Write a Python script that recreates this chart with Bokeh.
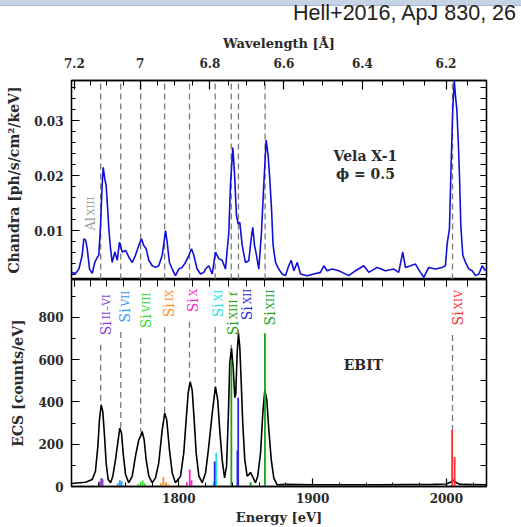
import numpy as np
from bokeh.plotting import figure
from bokeh.models import LinearAxis, FixedTicker, Range1d, Div, ColumnDataSource
from bokeh.layouts import column
from bokeh.embed import file_html
from bokeh.resources import INLINE
from bokeh.core.properties import value

HC = 12398.42  # eV * Angstrom

# ---------------- data ----------------
chandra_energy = [1719.8, 1722.8, 1725.3, 1727.8, 1729.0, 1730.3, 1731.5, 1733.3, 1735.3, 1737.2,
                  1739.0, 1740.2, 1741.5, 1742.7, 1743.5, 1744.7, 1745.7, 1746.7, 1747.7, 1749.0,
                  1750.2, 1752.2, 1754.0, 1755.7, 1757.7, 1760.2, 1762.6, 1765.2, 1767.6, 1770.1,
                  1772.1, 1773.8, 1775.6, 1777.6, 1780.1, 1782.6, 1785.0, 1787.6, 1790.1, 1791.3,
                  1793.0, 1795.1, 1797.5, 1800.0, 1802.5, 1805.0, 1807.5, 1809.5, 1811.2, 1813.7,
                  1816.2, 1818.7, 1820.0, 1822.4, 1825.0, 1827.4, 1829.9, 1832.4, 1834.9, 1837.4,
                  1838.6, 1840.4, 1841.6, 1843.1, 1844.4, 1845.6, 1847.4, 1849.8, 1852.3, 1854.1,
                  1855.3, 1856.6, 1858.1, 1859.8, 1861.8, 1863.5, 1865.3, 1866.8, 1868.0, 1869.3,
                  1870.5, 1872.3, 1874.7, 1877.3, 1879.7, 1882.2, 1884.0, 1886.0, 1888.5, 1891.0,
                  1896.0, 1900.9, 1905.9, 1908.4, 1910.9, 1914.6, 1919.6, 1922.1, 1927.1, 1932.1,
                  1938.3, 1942.0, 1948.3, 1954.5, 1960.7, 1964.4, 1967.4, 1969.4, 1973.2, 1976.9,
                  1980.6, 1983.1, 1986.8, 1991.8, 1996.8, 1999.3, 2000.6, 2002.3, 2003.8, 2004.8,
                  2005.9, 2006.8, 2007.8, 2008.9, 2009.8, 2010.8, 2012.3, 2014.3, 2016.8, 2019.3,
                  2021.8, 2024.3, 2026.8, 2029.2]
chandra_flux = [0.0024, 0.0022, 0.0030, 0.0055, 0.0085, 0.0083, 0.0068, 0.0030, 0.0022, 0.0042,
                0.0051, 0.0055, 0.0109, 0.0182, 0.0215, 0.0194, 0.0182, 0.0145, 0.0103, 0.0067,
                0.0042, 0.0061, 0.0046, 0.0079, 0.0061, 0.0064, 0.0052, 0.0042, 0.0055, 0.0073,
                0.0085, 0.0073, 0.0067, 0.0046, 0.0036, 0.0033, 0.0036, 0.0055, 0.0100, 0.0079,
                0.0042, 0.0030, 0.0018, 0.0030, 0.0033, 0.0042, 0.0055, 0.0067, 0.0055, 0.0030,
                0.0021, 0.0024, 0.0030, 0.0036, 0.0021, 0.0061, 0.0049, 0.0046, 0.0030, 0.0097,
                0.0182, 0.0251, 0.0206, 0.0127, 0.0112, 0.0115, 0.0073, 0.0042, 0.0045, 0.0085,
                0.0106, 0.0073, 0.0055, 0.0030, 0.0097, 0.0182, 0.0265, 0.0236, 0.0194, 0.0140,
                0.0073, 0.0042, 0.0030, 0.0021, 0.0018, 0.0036, 0.0046, 0.0027, 0.0042, 0.0021,
                0.0018, 0.0021, 0.0024, 0.0036, 0.0027, 0.0030, 0.0027, 0.0024, 0.0018, 0.0027,
                0.0036, 0.0024, 0.0033, 0.0027, 0.0030, 0.0024, 0.0061, 0.0033, 0.0036, 0.0039,
                0.0024, 0.0015, 0.0033, 0.0030, 0.0033, 0.0036, 0.0076, 0.0103, 0.0242, 0.0321,
                0.0373, 0.0345, 0.0321, 0.0261, 0.0200, 0.0109, 0.0055, 0.0042, 0.0030, 0.0027,
                0.0018, 0.0021, 0.0036, 0.0027]

ebit_energy = [1719.8, 1730.3, 1735.3, 1737.7, 1739.5, 1740.7, 1742.0, 1743.2, 1744.5, 1745.7,
               1747.2, 1749.0, 1750.7, 1752.7, 1754.7, 1755.9, 1757.2, 1758.4, 1760.2, 1762.6,
               1765.2, 1767.6, 1770.1, 1771.4, 1772.6, 1774.1, 1775.6, 1777.6, 1780.1, 1782.6,
               1785.0, 1787.6, 1789.5, 1791.0, 1793.0, 1795.1, 1797.5, 1801.3, 1803.7, 1805.5,
               1807.0, 1808.5, 1810.0, 1811.5, 1813.0, 1815.0, 1817.5, 1820.0, 1822.4, 1825.0,
               1827.4, 1829.1, 1830.6, 1832.4, 1834.2, 1835.7, 1837.1, 1838.1, 1839.4, 1840.6,
               1841.9, 1842.6, 1843.6, 1844.6, 1845.6, 1846.6, 1847.8, 1849.3, 1851.1, 1852.3,
               1853.6, 1855.6, 1857.3, 1859.0, 1861.1, 1862.8, 1864.3, 1865.8, 1867.3, 1869.1,
               1871.0, 1873.5, 1880.0, 1900.0, 1950.0, 1990.0, 2000.0, 2003.0, 2005.0, 2007.0,
               2010.0, 2030.0]
ebit_counts = [14, 20, 33, 72, 190, 315, 386, 354, 237, 111,
               33, 18, 49, 127, 221, 276, 252, 158, 56, 18,
               49, 143, 221, 237, 260, 221, 127, 49, 18, 41,
               111, 268, 347, 315, 174, 64, 18, 49, 158, 315,
               441, 496, 456, 315, 158, 49, 18, 64, 190, 347,
               472, 409, 268, 127, 41, 96, 347, 582, 653, 566,
               420, 440, 629, 723, 660, 504, 300, 127, 49, 56,
               67, 41, 18, 49, 158, 347, 456, 409, 268, 127,
               41, 8, 10, 8, 8, 10, 12, 20, 30, 20,
               10, 8]

# identified lines
line_energy = [1741.6, 1756.6, 1771.5, 1789.4, 1808.0, 1827.2, 1839.2, 1844.6, 1864.5, 2004.6]
label_energy = [1741.5, 1756.4, 1771.4, 1789.3, 1807.2, 1825.2, 1837.1, 1847.6, 1864.8, 2005.3]
line_ion = ["II\u2013VI", "VII", "VIII", "IX", "X", "XI", "XIII f", "XII", "XIII", "XIV"]
line_color = ["#8a3fd0", "#2f9bff", "#33dd33", "#ff8c26", "#ff22c8", "#22e6e6",
              "#1aa31a", "#2a2ae0", "#1aa31a", "#ff3030"]
label_bottom = [715, 776, 748, 800, 824, 800, 715, 786, 762, 762]   # ECS units
dash_end = [386, 276, 260, 347, 496, 472, 598, 723, 725, 268]        # ECS units

# theoretical line strengths (sticks)
stick_energy = [1740.9, 1742.0, 1743.0, 1754.5, 1756.0, 1757.3, 1769.5, 1771.5, 1773.0, 1774.5,
                1786.5, 1788.5, 1790.5, 1792.0, 1806.0, 1808.2, 1809.5, 1826.0, 1828.0, 1826.8,
                1843.8, 1844.4, 1839.3, 1853.7, 1864.4, 2004.3, 2006.2]
stick_height = [25, 40, 35, 15, 30, 25, 12, 20, 28, 15,
                15, 45, 20, 10, 20, 80, 30, 20, 160, 118,
                170, 420, 598, 20, 725, 268, 140]
stick_ion = [0, 0, 0, 1, 1, 1, 2, 2, 2, 2,
             3, 3, 3, 3, 4, 4, 4, 5, 5, 7,
             7, 7, 6, 6, 8, 9, 9]

# axis ticks
energy_major = [1800, 1900, 2000]
energy_minor = list(range(1720, 2030, 20))
wl_major = [7.2, 7.0, 6.8, 6.6, 6.4, 6.2]
wl_major_labels = ["7.2", "7", "6.8", "6.6", "6.4", "6.2"]
wl_minor = [round(7.25 - 0.05 * i, 2) for i in range(24)]
chandra_major = [0.01, 0.02, 0.03]
chandra_minor = [round(0.002 * i, 3) for i in range(1, 19)]
ecs_major = [0, 200, 400, 600, 800]
ecs_minor = list(range(0, 1000, 100))

header_text = "Hell+2016, ApJ 830, 26"

# ---------------- styling ----------------
FONT = "DejaVu Serif"
TXT = "#2a2a2a"
X0, X1 = 1719.8, 2030.0
xr = Range1d(X0, X1)

wl_ticks = [HC / l for l in wl_major]
wl_minor_ticks = [HC / l for l in wl_minor if X0 <= HC / l <= X1]
wl_overrides = {t: s for t, s in zip(wl_ticks, wl_major_labels)}


def style_axis(ax, in_major=8, in_minor=4, label_size="13px"):
    ax.major_tick_in = in_major
    ax.major_tick_out = 0
    ax.minor_tick_in = in_minor
    ax.minor_tick_out = 0
    ax.axis_line_color = "black"
    ax.axis_line_width = 1.3
    ax.major_tick_line_width = 1.2
    ax.minor_tick_line_width = 1.0
    ax.major_tick_line_color = "black"
    ax.minor_tick_line_color = "black"
    ax.major_label_text_font = FONT
    ax.major_label_text_font_style = "bold"
    ax.major_label_text_font_size = "12px"
    ax.major_label_text_color = TXT
    ax.axis_label_text_font = FONT
    ax.axis_label_text_font_style = "bold"
    ax.axis_label_text_font_size = label_size
    ax.axis_label_text_color = TXT


def mirror_axis(all_ticks, tick_len):
    # ticks only (as minor ticks), no labels
    ax = LinearAxis(ticker=FixedTicker(ticks=[], minor_ticks=all_ticks))
    style_axis(ax, in_minor=tick_len)
    ax.major_label_standoff = 0
    return ax


def base_fig(height, yr, top, bottom, x_loc):
    p = figure(width=521, height=height, x_range=xr, y_range=yr,
               x_axis_location=x_loc, output_backend="svg", toolbar_location=None,
               min_border_left=71, min_border_right=35, min_border_top=top,
               min_border_bottom=bottom)
    p.xgrid.visible = False
    p.ygrid.visible = False
    p.outline_line_color = "black"
    p.outline_line_width = 1.3
    p.background_fill_color = "white"
    p.border_fill_color = "white"
    return p


# ---------------- header strip (slide bar + citation) ----------------
header_html = (
    '<div style="position:relative;width:521px;height:27px;overflow:visible;">'
    '<div style="position:absolute;left:0;top:0;width:521px;height:6px;'
    'background:#c6d3e4;border-bottom:1px solid #a9b9cf;"></div>'
    '<div style="position:absolute;right:5px;top:3px;white-space:nowrap;'
    "font-family:'Liberation Sans',sans-serif;font-size:21.5px;line-height:21.5px;"
    'color:#222222;">' + header_text + '</div></div>'
)
header = Div(text=header_html, width=521, height=27, margin=0)

# ---------------- top panel: Chandra ----------------
p1 = base_fig(252, Range1d(0.0011, 0.0373), 53, 0, "above")
ax = p1.xaxis[0]
ax.ticker = FixedTicker(ticks=wl_ticks, minor_ticks=wl_minor_ticks)
ax.major_label_overrides = wl_overrides
ax.axis_label = "Wavelength [Å]"
style_axis(ax, in_major=9, in_minor=5)
ax.major_label_standoff = 13
ax.axis_label_standoff = 4

ay = p1.yaxis[0]
ay.ticker = FixedTicker(ticks=chandra_major, minor_ticks=chandra_minor)
ay.axis_label = "Chandra [ph/s/cm²/keV]"
style_axis(ay, label_size="14px")
ay.major_label_standoff = 8
ay.axis_label_standoff = 9
p1.add_layout(mirror_axis(chandra_major + chandra_minor, 6), "right")

for e in line_energy:
    p1.segment(x0=e, y0=0.0011, x1=e, y1=0.0373, line_color="#7a7a7a",
               line_width=1.3, line_dash="6 4")
p1.line(chandra_energy, chandra_flux, line_color="#1010d8", line_width=1.6)

# Al XIII marker
p1.text(x=[1730.3], y=[0.0100], text=["Al"], angle=np.pi / 2, text_align="left",
        text_baseline="alphabetic", x_offset=5, text_font=value(FONT),
        text_font_size="13px", text_color="#a0a0a0")
p1.text(x=[1730.3], y=[0.0100], text=["XIII"], angle=np.pi / 2, text_align="left",
        text_baseline="alphabetic", x_offset=5, y_offset=-15, text_font=value(FONT),
        text_font_size="10px", text_color="#a0a0a0")

p1.text(x=[1939.5, 1939.5], y=[0.02364, 0.02036], text=["Vela X-1", "ϕ = 0.5"],
        text_align="center", text_baseline="middle", text_font=value(FONT),
        text_font_style="bold", text_font_size="14px", text_color=TXT)

# ---------------- bottom panel: EBIT ----------------
p2 = base_fig(248, Range1d(0, 979), 0, 40, "below")
bx = p2.xaxis[0]
bx.ticker = FixedTicker(ticks=energy_major, minor_ticks=energy_minor)
bx.axis_label = "Energy [eV]"
style_axis(bx)
bx.major_label_standoff = 6
bx.axis_label_standoff = 4

p2.add_layout(mirror_axis(wl_ticks + wl_minor_ticks, 7), "above")

by = p2.yaxis[0]
by.ticker = FixedTicker(ticks=ecs_major, minor_ticks=ecs_minor)
by.axis_label = "ECS [counts/eV]"
style_axis(by, label_size="14px")
by.major_label_standoff = 8
by.axis_label_standoff = 9
p2.add_layout(mirror_axis(ecs_minor, 6), "right")

# dashed connectors from labels to peaks
d_x, d_y0, d_y1 = [], [], []
for e, lb, de in zip(line_energy, label_bottom, dash_end):
    top = lb - 45
    if top > de:
        d_x.append(e); d_y0.append(top); d_y1.append(de)
p2.segment(x0=d_x, y0=d_y0, x1=d_x, y1=d_y1, line_color="#7a7a7a",
           line_width=1.3, line_dash="6 4")

p2.line(ebit_energy, ebit_counts, line_color="black", line_width=1.6)

st = ColumnDataSource(dict(x=stick_energy, y0=[0] * len(stick_energy), y1=stick_height,
                           c=[line_color[i] for i in stick_ion]))
p2.segment(x0="x", y0="y0", x1="x", y1="y1", line_color="c", line_width=1.8, source=st)

# ion labels
lab = ColumnDataSource(dict(x=label_energy, y=label_bottom, c=line_color,
                            si=["Si"] * len(line_energy), ion=line_ion))
p2.text(x="x", y="y", text="si", angle=np.pi / 2, text_align="left",
        text_baseline="alphabetic", x_offset=5, text_font=value(FONT),
        text_font_size="14px", text_color="c", source=lab)
p2.text(x="x", y="y", text="ion", angle=np.pi / 2, text_align="left",
        text_baseline="alphabetic", x_offset=5, y_offset=-16, text_font=value(FONT),
        text_font_size="10.5px", text_color="c", source=lab)

p2.text(x=[1938.0], y=[574], text=["EBIT"], text_align="center", text_baseline="middle",
        text_font=value(FONT), text_font_style="bold", text_font_size="14px",
        text_color=TXT)

layout = column(header, p1, p2, spacing=0)
open("out.html", "w").write(file_html(layout, INLINE))
